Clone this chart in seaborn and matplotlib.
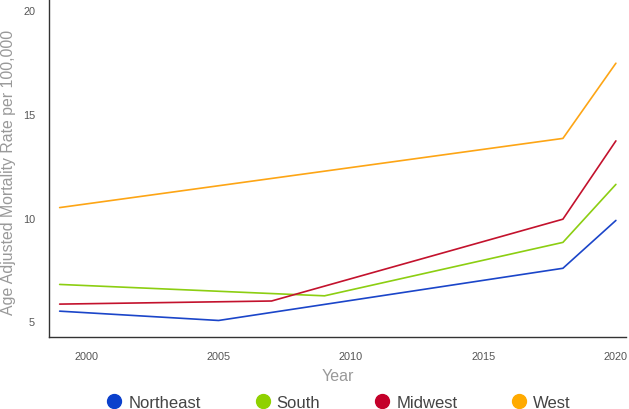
import matplotlib
matplotlib.use("Agg")
import matplotlib.pyplot as plt
from matplotlib.lines import Line2D
import pandas as pd
import seaborn as sns

# Data (trend segment end points)
regions = ["Northeast", "South", "Midwest", "West"]
ne_years = [1999, 2005, 2018, 2020]
ne_rates = [5.48, 5.03, 7.55, 9.86]
south_years = [1999, 2009, 2018, 2020]
south_rates = [6.77, 6.22, 8.80, 11.60]
mw_years = [1999, 2007, 2018, 2020]
mw_rates = [5.82, 5.97, 9.92, 13.70]
west_years = [1999, 2018, 2020]
west_rates = [10.48, 13.82, 17.45]

colors = {"Northeast": "#1b45c9", "South": "#8cce12", "Midwest": "#c3122d", "West": "#fda515"}
marker_colors = {"Northeast": "#0b40cc", "South": "#8fd100", "Midwest": "#c4002a", "West": "#ffaa00"}

frames = []
for name, yrs, vals in zip(regions,
                           [ne_years, south_years, mw_years, west_years],
                           [ne_rates, south_rates, mw_rates, west_rates]):
    frames.append(pd.DataFrame({"Year": yrs, "Rate": vals, "Region": name}))
df = pd.concat(frames, ignore_index=True)

sns.set_style("white")
plt.rcParams["font.family"] = ["Liberation Sans", "DejaVu Sans"]

fig = plt.figure(figsize=(6.29, 4.10), dpi=100)
ax = fig.add_axes([0.078, 0.176, 0.918, 0.824])

sns.lineplot(data=df, x="Year", y="Rate", hue="Region", palette=colors,
             linewidth=1.2, legend=False, ax=ax)

ax.set_xlim(1998.6, 2020.4)
ax.set_ylim(4.24, 20.55)
ax.set_xticks([2000, 2005, 2010, 2015, 2020])
ax.set_yticks([5, 10, 15, 20])

sns.despine(ax=ax)
for side in ["left", "bottom"]:
    ax.spines[side].set_color("#333333")
    ax.spines[side].set_linewidth(1.0)
ax.tick_params(axis="both", direction="out", length=5, width=1.0, color="#333333",
               labelsize=7.8, labelcolor="#555555", pad=5)

ax.set_xlabel("Year", fontsize=11.5, color="#999999", labelpad=5)
ax.set_ylabel("Age Adjusted Mortality Rate per 100,000", fontsize=11.4, color="#999999")
ax.yaxis.set_label_coords(-0.058, 0.49)

handles = [Line2D([], [], linestyle="none", marker="o", markersize=10,
                  markerfacecolor=marker_colors[r], markeredgecolor=marker_colors[r])
           for r in regions]
fig.legend(handles, regions, loc="lower center", bbox_to_anchor=(0.538, -0.038), ncol=4,
           frameon=False, fontsize=12, labelcolor="#444444", handletextpad=0.35,
           columnspacing=3.2, handlelength=1.0)

fig.savefig("out.png", dpi=100)
